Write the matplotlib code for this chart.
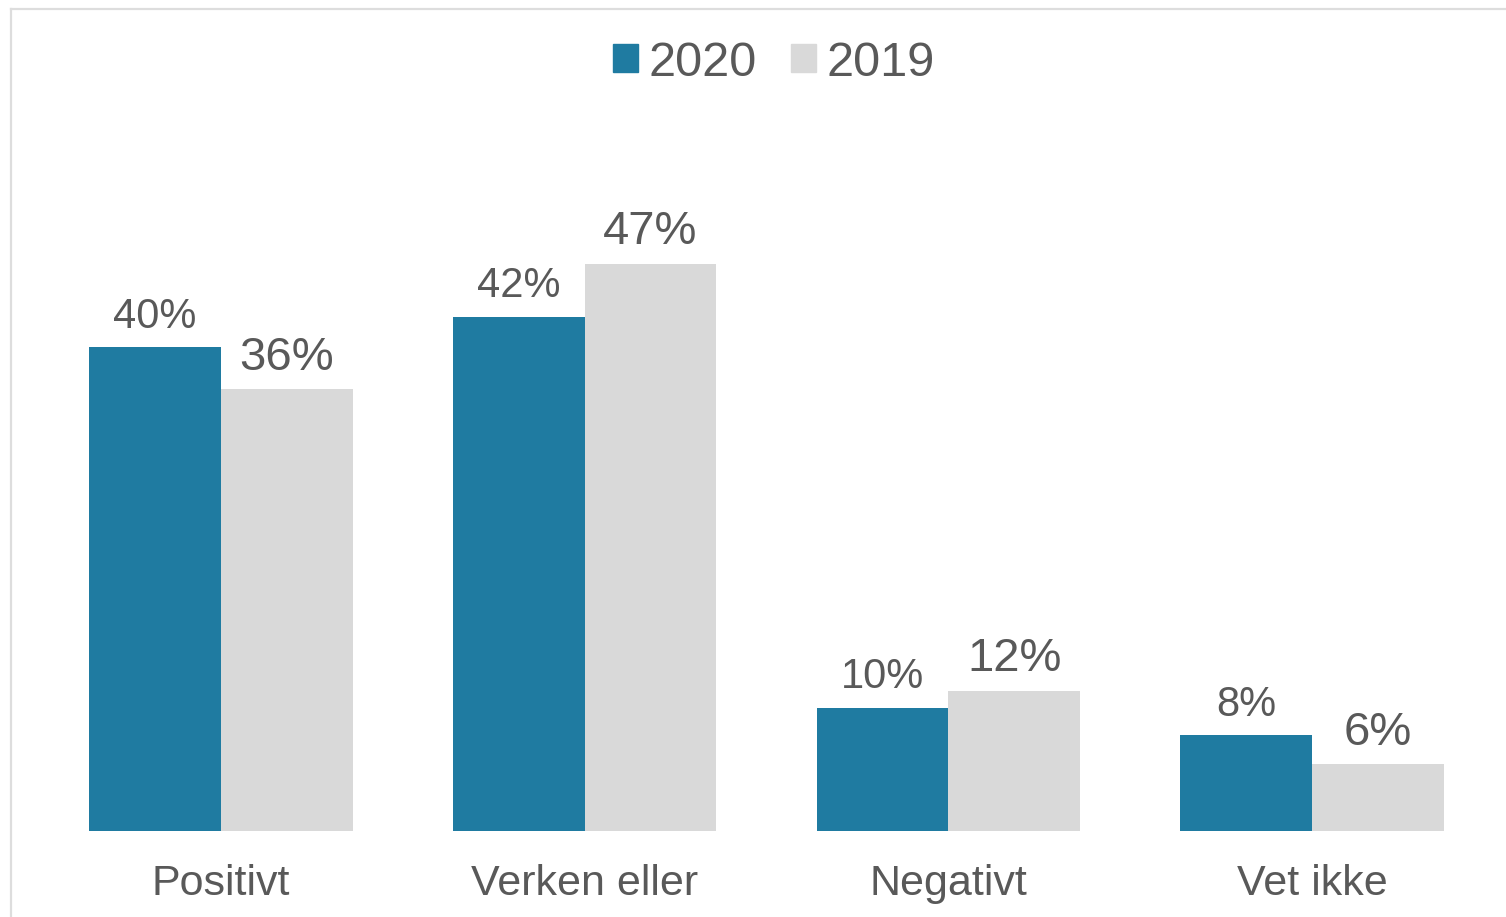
import numpy as np
import matplotlib.pyplot as plt
from matplotlib.lines import Line2D
from matplotlib.patches import Patch

# data
#
categories = ['Positivt', 'Verken eller', 'Negativt', 'Vet ikke']
years = ['2020', '2019']
pct_2020 = [40.0, 42.5, 10.2, 7.9]
pct_2019 = [36.5, 46.9, 11.6, 5.5]
labels_2020 = ['40%', '42%', '10%', '8%']
labels_2019 = ['36%', '47%', '12%', '6%']

# style
#
plt.rcParams['font.family'] = ['Liberation Sans', 'DejaVu Sans']
text_color = '#595959'
c2020 = '#1F7BA1'
c2019 = '#D9D9D9'

W, H = 1506, 917
fig = plt.figure(figsize=(W / 100, H / 100), dpi=100)

# axes placed in pixel terms
left, right, bottom, top = 39, 1494, 831, 100
ax = fig.add_axes([left / W, 1 - bottom / H, (right - left) / W, (bottom - top) / H])

x = np.arange(len(categories))
bw = 0.362
b1 = ax.bar(x - bw / 2, pct_2020, bw, color=c2020, label=years[0])
b2 = ax.bar(x + bw / 2, pct_2019, bw, color=c2019, label=years[1])

for rect, lab in zip(b1, labels_2020):
  ax.annotate(lab, (rect.get_x() + rect.get_width() / 2, rect.get_height()),
              xytext=(0, 14), textcoords='offset points',
              ha='center', va='baseline', fontsize=30, color=text_color)
for rect, lab in zip(b2, labels_2019):
  ax.annotate(lab, (rect.get_x() + rect.get_width() / 2, rect.get_height()),
              xytext=(0, 14), textcoords='offset points',
              ha='center', va='baseline', fontsize=34, color=text_color)

ax.set_xlim(-0.5, len(categories) - 0.5)
ax.set_ylim(0, (bottom - top) / 12.1)
ax.set_xticks(x)
ax.set_xticklabels(categories, fontsize=31, color=text_color)
ax.tick_params(axis='x', length=0, pad=24)
ax.set_yticks([])
for s in ax.spines.values():
  s.set_visible(False)

# legend
#
handles = [Patch(color=c2020), Patch(color=c2019)]
fig.legend(handles, years, loc='center', bbox_to_anchor=(774 / W, 1 - 63 / H),
           ncol=2, frameon=False, fontsize=35, labelcolor=text_color,
           handlelength=0.51, handleheight=0.51, handletextpad=0.22,
           columnspacing=0.7)

# chart border (left and top visible)
#
fig.add_artist(Line2D([11 / W, 11 / W], [0, 1 - 9 / H], transform=fig.transFigure,
                      color='#DDDDDD', linewidth=1.6))
fig.add_artist(Line2D([11 / W, 1], [1 - 9 / H, 1 - 9 / H], transform=fig.transFigure,
                      color='#DDDDDD', linewidth=1.6))

plt.savefig('out.png', dpi=100)
